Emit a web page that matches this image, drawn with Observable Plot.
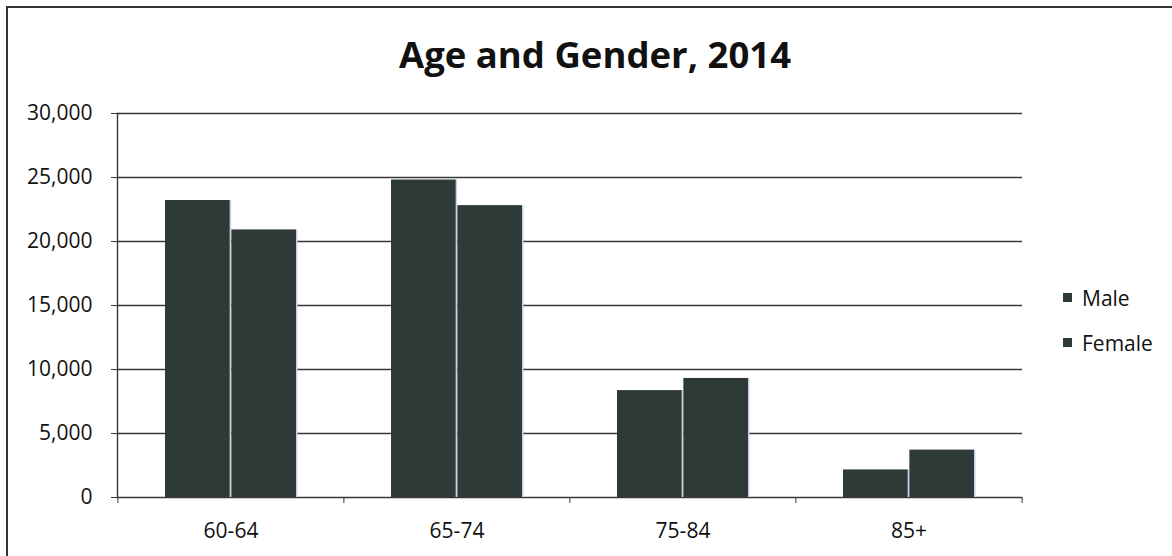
<!DOCTYPE html>
<html><head><meta charset="utf-8">
<script src="https://cdn.jsdelivr.net/npm/d3@7"></script>
<script src="https://cdn.jsdelivr.net/npm/@observablehq/plot@0.6"></script>
<style>
html,body{margin:0;padding:0;background:#fff;overflow:hidden}
#wrap{position:relative;width:1172px;height:556px;font-family:"Open Sans",sans-serif;color:#111;overflow:hidden}
#border{position:absolute;left:6px;top:6px;width:1200px;height:600px;border-left:2px solid #333;border-top:2px solid #333;box-sizing:border-box}
#title{position:absolute;left:595px;top:36px;transform:translateX(-50%);font-weight:bold;font-size:36.5px;line-height:36px;white-space:nowrap}
#legend{position:absolute;left:1063px;top:275px;font-size:21px}
.item{display:flex;align-items:center;height:45px}
.sw{width:9px;height:9px;background:#2e3a35;margin-right:10px}
#chart{position:absolute;left:0;top:0}
</style></head><body>
<div id="wrap">
  <div id="border"></div>
  <div id="chart"></div>
  <div id="title">Age and Gender, 2014</div>
  <div id="legend"></div>
</div>
<script>
const ages = ["60-64", "65-74", "75-84", "85+"];
const male = [23200, 24800, 8350, 2150];
const female = [20900, 22800, 9300, 3700];
const seriesNames = ["Male", "Female"];
const yTicks = [0, 5000, 10000, 15000, 20000, 25000, 30000];

const rows = ages.flatMap((a, i) => [
  {age: a, gender: seriesNames[0], value: male[i]},
  {age: a, gender: seriesNames[1], value: female[i]}
]);
const maleRows = rows.filter(d => d.gender === seriesNames[0]);
const femaleRows = rows.filter(d => d.gender === seriesNames[1]);

const W = 1172, H = 556, mL = 117, mR = 150, mT = 113, mB = 59;
const pInner = 0.42, pOuter = 0.21;
const step = (W - mL - mR) / (ages.length - pInner + 2 * pOuter);
const bw = step * (1 - pInner);
const barColor = "#2e3a35";
const shadow = "#cdcdea";
const lineColor = "#383838";

const plot = Plot.plot({
  width: W, height: H,
  marginLeft: mL, marginRight: mR, marginTop: mT, marginBottom: mB,
  style: {fontFamily: "'Open Sans', sans-serif", fontSize: "21px", color: "#111", background: "transparent"},
  x: {domain: ages, paddingInner: pInner, paddingOuter: pOuter, label: null},
  y: {domain: [0, 30000], label: null},
  marks: [
    Plot.ruleY(yTicks, {stroke: lineColor, strokeWidth: 1.4, strokeOpacity: 1}),
    Plot.barY(maleRows, {x: "age", y: "value", fill: shadow, insetRight: bw / 2 + 0.75, dx: 1.5}),
    Plot.barY(femaleRows, {x: "age", y: "value", fill: shadow, insetLeft: bw / 2 + 0.75, dx: 1.5}),
    Plot.barY(maleRows, {x: "age", y: "value", fill: barColor, insetRight: bw / 2 + 0.75}),
    Plot.barY(femaleRows, {x: "age", y: "value", fill: barColor, insetLeft: bw / 2 + 0.75}),
    Plot.frame({anchor: "left", stroke: lineColor, strokeWidth: 1.4}),
    Plot.axisY({ticks: yTicks, tickFormat: d3.format(","), tickSize: 6, tickPadding: 19, stroke: lineColor, fontSize: 21, label: null}),
    Plot.axisX({tickSize: 0, tickPadding: 26, fontSize: 21, label: null}),
    Plot.axisX(ages, {tickSize: 6, tickFormat: () => "", dx: -step / 2, stroke: lineColor, label: null}),
    Plot.axisX([ages[ages.length - 1]], {tickSize: 6, tickFormat: () => "", dx: step / 2, stroke: lineColor, label: null})
  ]
});
document.getElementById("chart").appendChild(plot);

const legend = document.getElementById("legend");
for (const s of seriesNames) {
  const item = document.createElement("div");
  item.className = "item";
  item.innerHTML = `<span class="sw"></span><span>${s}</span>`;
  legend.appendChild(item);
}
</script>
</body></html>
